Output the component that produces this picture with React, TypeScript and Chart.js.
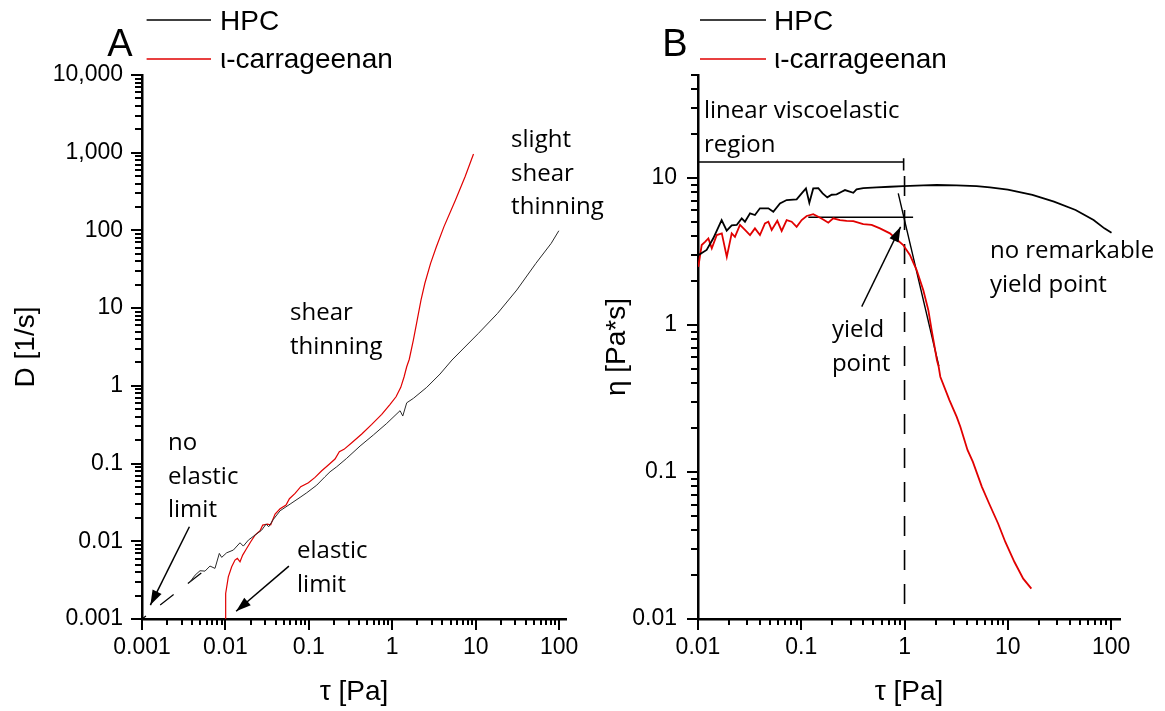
import React, { useEffect, useRef } from "react";
import { Chart, registerables } from "chart.js";

Chart.register(...registerables);

type Pt = [number, number];

const W = 1165;
const H = 711;

// ---------------- shared ----------------
const seriesNames = ["HPC", "ι-carrageenan"];
const seriesColors = ["#000000", "#e10000"];

// ---------------- Panel A : D [1/s] vs τ [Pa] ----------------
const aXTickLabels = ["0.001", "0.01", "0.1", "1", "10", "100"];
const aYTickLabels = ["0.001", "0.01", "0.1", "1", "10", "100", "1,000", "10,000"];
const aXMax = 121;

const aHpc: Pt[] = [
  [0.00377, 0.00301], [0.00433, 0.00367], [0.00496, 0.00418], [0.00569, 0.00413],
  [0.00653, 0.0048], [0.0075, 0.00448], [0.00845, 0.00698], [0.00902, 0.00621],
  [0.01035, 0.00711], [0.01245, 0.00771], [0.01496, 0.00957], [0.0164, 0.00867],
  [0.01884, 0.01035], [0.02265, 0.01202], [0.02723, 0.01393], [0.0307, 0.01665],
  [0.033, 0.01538], [0.0376, 0.01914], [0.0452, 0.0247], [0.0596, 0.0301],
  [0.0784, 0.0367], [0.0944, 0.0421], [0.1245, 0.0528], [0.156, 0.0676],
  [0.1795, 0.0784], [0.216, 0.091], [0.284, 0.1167], [0.411, 0.168],
  [0.593, 0.233], [0.859, 0.329], [1.24, 0.479], [1.337, 0.409],
  [1.49, 0.605], [1.79, 0.69], [2.59, 0.957], [3.74, 1.42],
  [5.2, 2.15], [10.8, 4.74], [18.3, 8.57], [31.1, 17.1],
  [52.7, 37.7], [80.4, 68.2], [99.3, 99.1],
];

const aCarrageenan: Pt[] = [
  [0.0099, 0.001], [0.01007, 0.00213], [0.01083, 0.00349], [0.01189, 0.0047],
  [0.01303, 0.00573], [0.0139, 0.00602], [0.01496, 0.00545], [0.0161, 0.00664],
  [0.01766, 0.00785], [0.0201, 0.00986], [0.02265, 0.012], [0.026, 0.01365],
  [0.028, 0.01616], [0.0318, 0.01663], [0.0349, 0.0163], [0.0394, 0.0224],
  [0.0452, 0.0262], [0.0533, 0.0292], [0.0585, 0.0353], [0.0684, 0.0413],
  [0.08, 0.0504], [0.0988, 0.0566], [0.1187, 0.0664], [0.1427, 0.0807],
  [0.1714, 0.0957], [0.206, 0.1143], [0.232, 0.1419], [0.264, 0.1524],
  [0.327, 0.1854], [0.431, 0.24], [0.568, 0.319], [0.748, 0.43],
  [0.942, 0.578], [1.11, 0.724], [1.265, 0.957], [1.387, 1.31],
  [1.49, 1.76], [1.6, 2.2], [1.79, 3.88], [1.99, 7.03],
  [2.21, 12.7], [2.46, 20.9], [2.88, 37.7], [3.38, 61.7],
  [4.17, 112], [5.73, 246], [7.46, 491], [9.42, 962],
];

const aHpcExtrapolation: Pt[] = [[0.001, 0.001], [0.00536, 0.00404]];
const aArrowNoElasticLimit: Pt[] = [[0.0037, 0.01538], [0.00126, 0.00151]];
const aArrowElasticLimit: Pt[] = [[0.0577, 0.0048], [0.01343, 0.00126]];

const aNoteSlight = ["slight", "shear", "thinning"];
const aNoteShear = ["shear", "thinning"];
const aNoteNoElastic = ["no", "elastic", "limit"];
const aNoteElastic = ["elastic", "limit"];
const aNoteAnchors: Pt[] = [[26.6, 1184], [0.0595, 7.03], [0.00205, 0.149], [0.0722, 0.00608]];

// ---------------- Panel B : η [Pa*s] vs τ [Pa] ----------------
const bXTickLabels = ["0.01", "0.1", "1", "10", "100"];
const bYTickLabels = ["0.01", "0.1", "1", "10"];
const bXMax = 122;
const bYMax = 50;

const bHpc: Pt[] = [
  [0.01007, 2.98], [0.01213, 3.23], [0.01406, 3.88], [0.01694, 5.16],
  [0.01897, 4.37], [0.0212, 4.75], [0.0237, 4.78], [0.0265, 5.3],
  [0.0285, 5.03], [0.0319, 5.73], [0.0356, 5.58], [0.0398, 6.2],
  [0.048, 6.2], [0.0536, 5.88], [0.0622, 6.7], [0.0722, 7.06],
  [0.0902, 7.13], [0.1009, 7.83], [0.111, 8.47], [0.1197, 6.76],
  [0.1306, 8.47], [0.1462, 8.51], [0.161, 7.83], [0.1786, 7.36],
  [0.197, 7.67], [0.22, 7.71], [0.246, 8.04], [0.265, 8.25],
  [0.319, 7.91], [0.343, 8.34], [0.398, 8.51], [0.537, 8.61],
  [0.722, 8.69], [0.971, 8.79], [1.52, 8.88], [2.05, 8.93],
  [3.19, 8.88], [4.99, 8.79], [6.71, 8.61], [10, 8.3],
  [17.3, 7.64], [28, 6.88], [45.3, 6.04], [67.7, 5.16],
  [86.1, 4.53], [101, 4.23],
];

const bCarrageenan: Pt[] = [
  [0.01007, 2.48], [0.01086, 3.49], [0.0117, 3.67], [0.0126, 3.87],
  [0.0136, 3.31], [0.0152, 4.08], [0.017, 4.19], [0.019, 2.9],
  [0.0212, 4.19], [0.0228, 3.97], [0.0255, 4.78], [0.0285, 4.42],
  [0.0319, 4.08], [0.0356, 4.53], [0.0398, 4.08], [0.0445, 4.9],
  [0.048, 5.03], [0.0517, 4.42], [0.0586, 5.1], [0.0646, 4.35],
  [0.0722, 5.16], [0.0807, 5.03], [0.0902, 4.64], [0.1009, 5.16],
  [0.1128, 5.5], [0.1306, 5.66], [0.1462, 5.43], [0.163, 5.21],
  [0.1827, 4.95], [0.204, 5.3], [0.237, 5.16], [0.275, 5.1],
  [0.319, 5.08], [0.398, 4.84], [0.48, 4.78], [0.578, 4.53],
  [0.722, 4.19], [0.839, 3.81], [0.971, 3.49], [1.127, 2.99],
  [1.31, 2.36], [1.52, 1.72], [1.7, 1.26], [1.83, 0.92],
  [2.06, 0.575], [2.14, 0.519], [2.22, 0.444], [2.72, 0.308],
  [3.2, 0.237], [3.47, 0.203], [4.07, 0.141], [4.59, 0.117],
  [5.61, 0.0792], [6.59, 0.061], [8.05, 0.0446], [9.46, 0.0334],
  [11.6, 0.0244], [14.1, 0.0188], [16.9, 0.0161],
];

const bLinearRegionBracket: Pt[] = [
  [0.01, 13.6], [0.01, 11.6], [0.01, 12.8], [0.98, 12.8], [0.98, 13.6], [0.98, 11.2],
];
const bYieldStressLine: Pt[] = [[1, 12.8], [1, 0.01]];
const bPlateauLine: Pt[] = [[0.117, 5.39], [1.21, 5.39]];
const bTangentLine: Pt[] = [[0.869, 7.84], [2.15, 0.524]];
const bArrowYield: Pt[] = [[0.385, 1.33], [0.916, 4.64]];

const bNoteLinear = ["linear viscoelastic", "region"];
const bNoteNoYield = ["no remarkable", "yield point"];
const bNoteYield = ["yield", "point"];
const bNoteAnchors: Pt[] = [[0.01143, 25.5], [6.71, 2.84], [0.198, 0.826]];

// ---------------- configuration types ----------------
interface Guide { data: Pt[]; width: number; dash?: number[]; dashOffset?: number; arrow?: boolean }
interface Note { lines: string[]; at: Pt }
interface PanelCfg {
  letter: string;
  xLabels: string[];
  yLabels: string[];
  xMax: number;
  yMax: number;
  xTitle: string;
  yTitle: string;
  area: { left: number; top: number; right: number; bottom: number };
  padLeft: number;
  yTitlePad: number;
  xTitlePad: number;
  yTickPad: number;
  xTickPad: number;
  series: { data: Pt[]; color: string; width: number }[];
  guides: Guide[];
  notes: Note[];
  legend: { lineX0: number; lineX1: number; textX: number };
  letterPos: { dx: number; dy: number };
}

const toNum = (s: string) => Number(s.replace(/,/g, ""));

const TICK_FONT = '"Liberation Sans", Arial, sans-serif';
const NOTE_FONT = '"Open Sans", "Noto Sans", sans-serif';

const panelA: PanelCfg = {
  letter: "A",
  xLabels: aXTickLabels,
  yLabels: aYTickLabels,
  xMax: aXMax,
  yMax: toNum(aYTickLabels[aYTickLabels.length - 1]),
  xTitle: "τ [Pa]",
  yTitle: "D [1/s]",
  area: { left: 142, top: 75, right: 566, bottom: 619 },
  padLeft: 0,
  yTitlePad: 9.5,
  xTitlePad: 1.5,
  yTickPad: 19,
  xTickPad: 15,
  series: [
    { data: aHpc, color: "#2a2a2a", width: 1 },
    { data: aCarrageenan, color: seriesColors[1], width: 1.2 },
  ],
  guides: [
    { data: aHpcExtrapolation, width: 1.2, dash: [17, 18], dashOffset: 12 },
    { data: aArrowNoElasticLimit, width: 1.5, arrow: true },
    { data: aArrowElasticLimit, width: 1.5, arrow: true },
  ],
  notes: [
    { lines: aNoteSlight, at: aNoteAnchors[0] },
    { lines: aNoteShear, at: aNoteAnchors[1] },
    { lines: aNoteNoElastic, at: aNoteAnchors[2] },
    { lines: aNoteElastic, at: aNoteAnchors[3] },
  ],
  legend: { lineX0: 4.6, lineX1: 69, textX: 78 },
  letterPos: { dx: -22, dy: -19 },
};

const panelB: PanelCfg = {
  letter: "B",
  xLabels: bXTickLabels,
  yLabels: bYTickLabels,
  xMax: bXMax,
  yMax: bYMax,
  xTitle: "τ [Pa]",
  yTitle: "η [Pa*s]",
  area: { left: 698, top: 75, right: 1120, bottom: 619 },
  padLeft: 590,
  yTitlePad: 10.5,
  xTitlePad: 1.5,
  yTickPad: 21,
  xTickPad: 15,
  series: [
    { data: bHpc, color: seriesColors[0], width: 1.8 },
    { data: bCarrageenan, color: seriesColors[1], width: 1.8 },
  ],
  guides: [
    { data: bLinearRegionBracket, width: 1.6 },
    { data: bYieldStressLine, width: 1.6, dash: [20, 14], dashOffset: 20 },
    { data: bPlateauLine, width: 1.6 },
    { data: bTangentLine, width: 1.4 },
    { data: bArrowYield, width: 1.4, arrow: true },
  ],
  notes: [
    { lines: bNoteLinear, at: bNoteAnchors[0] },
    { lines: bNoteNoYield, at: bNoteAnchors[1] },
    { lines: bNoteYield, at: bNoteAnchors[2] },
  ],
  legend: { lineX0: 2, lineX1: 68, textX: 76 },
  letterPos: { dx: -23, dy: -19 },
};

function logTickValues(min: number, max: number) {
  const out: { v: number; major: boolean }[] = [];
  const e0 = Math.floor(Math.log10(min) + 1e-9);
  const e1 = Math.ceil(Math.log10(max) - 1e-9);
  for (let e = e0; e <= e1; e++) {
    for (let m = 1; m <= 9; m++) {
      const v = m * Math.pow(10, e);
      if (v < min * (1 - 1e-9) || v > max * (1 + 1e-9)) continue;
      out.push({ v, major: m === 1 });
    }
  }
  return out;
}

function makeDecor(p: PanelCfg) {
  return {
    id: "decor" + p.letter,
    afterDraw(chart: any) {
      const ctx: CanvasRenderingContext2D = chart.ctx;
      const ca = chart.chartArea;
      const xs = chart.scales.x;
      const ys = chart.scales.y;
      ctx.save();
      ctx.strokeStyle = "#000";
      ctx.fillStyle = "#000";
      ctx.lineWidth = 2;
      // axis tick marks
      logTickValues(xs.min, xs.max).forEach(({ v, major }) => {
        const px = Math.round(xs.getPixelForValue(v));
        const len = major ? 11 : 6;
        ctx.beginPath();
        ctx.moveTo(px, ca.bottom);
        ctx.lineTo(px, ca.bottom + len);
        ctx.stroke();
      });
      logTickValues(ys.min, ys.max).forEach(({ v, major }) => {
        const py = Math.round(ys.getPixelForValue(v));
        const len = major ? 11 : 7;
        ctx.beginPath();
        ctx.moveTo(ca.left, py);
        ctx.lineTo(ca.left - len, py);
        ctx.stroke();
      });
      // arrowheads
      p.guides.filter((g) => g.arrow).forEach((g) => {
        const n = g.data.length;
        const ax = xs.getPixelForValue(g.data[n - 2][0]);
        const ay = ys.getPixelForValue(g.data[n - 2][1]);
        const bx = xs.getPixelForValue(g.data[n - 1][0]);
        const by = ys.getPixelForValue(g.data[n - 1][1]);
        const ang = Math.atan2(by - ay, bx - ax);
        const L = 15;
        const w = 5;
        const c = Math.cos(ang);
        const s = Math.sin(ang);
        ctx.beginPath();
        ctx.moveTo(bx, by);
        ctx.lineTo(bx - L * c + w * s, by - L * s - w * c);
        ctx.lineTo(bx - L * c - w * s, by - L * s + w * c);
        ctx.closePath();
        ctx.fill();
      });
      // annotation texts
      ctx.font = `24px ${NOTE_FONT}`;
      ctx.textAlign = "left";
      ctx.textBaseline = "alphabetic";
      p.notes.forEach((note) => {
        const x = xs.getPixelForValue(note.at[0]);
        const y = ys.getPixelForValue(note.at[1]);
        note.lines.forEach((t, i) => ctx.fillText(t, x, y + i * 33.5));
      });
      // legend
      const legendLineY = [-55, -16];
      const legendTextY = [-45, -7];
      ctx.font = `28px ${TICK_FONT}`;
      chart.data.datasets.slice(0, p.series.length).forEach((ds: any, i: number) => {
        ctx.strokeStyle = seriesColors[i];
        ctx.lineWidth = 1.6;
        ctx.beginPath();
        ctx.moveTo(ca.left + p.legend.lineX0, ca.top + legendLineY[i]);
        ctx.lineTo(ca.left + p.legend.lineX1, ca.top + legendLineY[i]);
        ctx.stroke();
        ctx.fillStyle = "#000";
        ctx.fillText(ds.label, ca.left + p.legend.textX, ca.top + legendTextY[i]);
      });
      // panel letter
      ctx.font = `38px ${TICK_FONT}`;
      ctx.textAlign = "center";
      ctx.fillText(p.letter, ca.left + p.letterPos.dx, ca.top + p.letterPos.dy);
      ctx.restore();
    },
  };
}

function buildConfig(p: PanelCfg): any {
  const xMin = toNum(p.xLabels[0]);
  const yMin = toNum(p.yLabels[0]);
  const datasets: any[] = [
    ...p.series.map((s, i) => ({
      label: seriesNames[i],
      data: s.data.map(([x, y]) => ({ x, y })),
      borderColor: s.color,
      backgroundColor: s.color,
      borderWidth: s.width,
      showLine: true,
      pointRadius: 0,
      tension: 0,
      fill: false,
    })),
    ...p.guides.map((g) => ({
      label: "",
      data: g.data.map(([x, y]) => ({ x, y })),
      borderColor: "#000",
      backgroundColor: "#000",
      borderWidth: g.width,
      borderDash: g.dash || [],
      borderDashOffset: g.dashOffset || 0,
      showLine: true,
      pointRadius: 0,
      tension: 0,
      fill: false,
    })),
  ];
  const gridOpts = {
    display: true,
    drawOnChartArea: false,
    drawTicks: false,
    color: "rgba(0,0,0,0)",
  };
  const borderOpts = { display: true, color: "#000", width: 2.5 };
  return {
    type: "scatter",
    data: { datasets },
    options: {
      animation: false,
      responsive: false,
      devicePixelRatio: 1,
      events: [],
      layout: {
        padding: { left: p.padLeft, top: p.area.top, right: W - p.area.right, bottom: 0 },
      },
      plugins: { legend: { display: false }, tooltip: { enabled: false } },
      scales: {
        x: {
          type: "logarithmic",
          position: "bottom",
          min: xMin,
          max: p.xMax,
          grid: gridOpts,
          border: borderOpts,
          afterBuildTicks: (scale: any) => {
            scale.ticks = p.xLabels.map((l) => ({ value: toNum(l) }));
          },
          afterFit: (scale: any) => {
            scale.height = H - p.area.bottom;
          },
          ticks: {
            autoSkip: false,
            maxRotation: 0,
            minRotation: 0,
            padding: p.xTickPad,
            color: "#000",
            font: { family: TICK_FONT, size: 23 },
            callback: (_v: any, i: number) => p.xLabels[i],
          },
          title: {
            display: true,
            text: p.xTitle,
            color: "#000",
            font: { family: TICK_FONT, size: 28 },
            padding: { top: 0, bottom: p.xTitlePad },
          },
        },
        y: {
          type: "logarithmic",
          position: "left",
          min: yMin,
          max: p.yMax,
          grid: gridOpts,
          border: borderOpts,
          afterBuildTicks: (scale: any) => {
            scale.ticks = p.yLabels.map((l) => ({ value: toNum(l) }));
          },
          afterFit: (scale: any) => {
            scale.width = p.area.left - p.padLeft;
          },
          ticks: {
            autoSkip: false,
            padding: p.yTickPad,
            color: "#000",
            font: { family: TICK_FONT, size: 23 },
            callback: (_v: any, i: number) => p.yLabels[i],
          },
          title: {
            display: true,
            text: p.yTitle,
            color: "#000",
            font: { family: TICK_FONT, size: 28 },
            padding: { top: p.yTitlePad, bottom: 0 },
          },
        },
      },
    },
    plugins: [makeDecor(p)],
  };
}

function Panel({ cfg }: { cfg: PanelCfg }) {
  const ref = useRef<HTMLCanvasElement>(null);
  useEffect(() => {
    if (!ref.current) return;
    const chart = new Chart(ref.current, buildConfig(cfg));
    return () => chart.destroy();
  }, [cfg]);
  return (
    <canvas
      ref={ref}
      width={W}
      height={H}
      style={{ position: "absolute", left: 0, top: 0, width: W, height: H }}
    />
  );
}

export default function App() {
  return (
    <div
      style={{
        position: "absolute",
        left: 0,
        top: 0,
        width: W,
        height: H,
        background: "#ffffff",
        overflow: "hidden",
      }}
    >
      <Panel cfg={panelA} />
      <Panel cfg={panelB} />
    </div>
  );
}
